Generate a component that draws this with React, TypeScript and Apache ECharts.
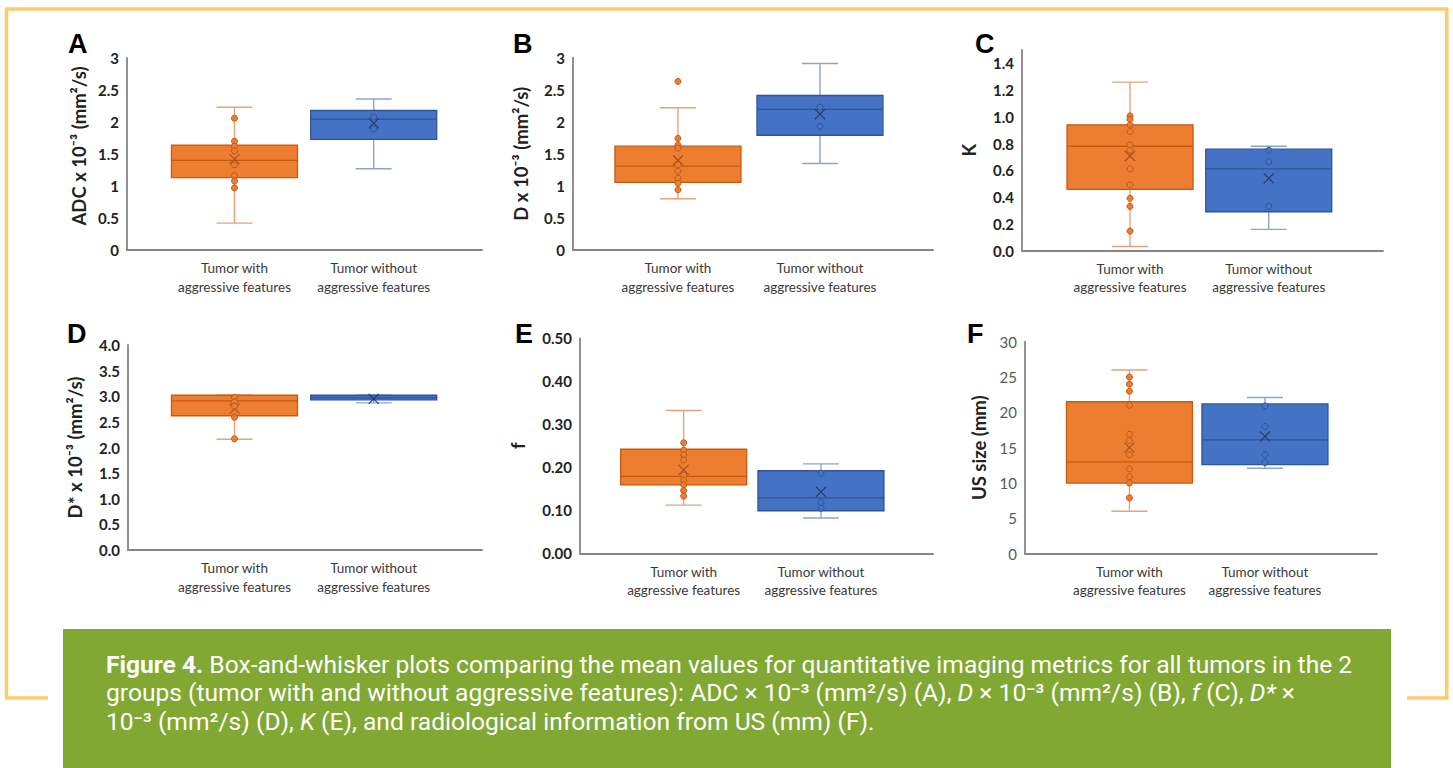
import React, { useEffect, useRef } from 'react';
import * as echarts from 'echarts';

// ---------------- DATA ----------------
const panelLetters = ['A', 'B', 'C', 'D', 'E', 'F'];
const categories = ['Tumor with\naggressive features', 'Tumor without\naggressive features'];
const yAxisTitles = [
  'ADC x 10⁻³ (mm²/s)',
  'D x 10⁻³ (mm²/s)',
  'K',
  'D* x 10⁻³ (mm²/s)',
  'f',
  'US size (mm)',
];
const yMaxes = [3, 3, 1.5, 4, 0.5, 30];
const yIntervals = [0.5, 0.5, 0.2, 0.5, 0.1, 5];
const yDecimals = [-1, -1, 1, 1, 2, 0];

// box stats: [min, Q1, median, Q3, max]
const withBoxes = [
  [0.42, 1.13, 1.4, 1.64, 2.23],
  [0.8, 1.056, 1.31, 1.62, 2.22],
  [0.03, 0.458, 0.78, 0.94, 1.26],
  [2.16, 2.62, 2.91, 3.02, 3.02],
  [0.112, 0.159, 0.179, 0.242, 0.332],
  [6, 10, 13, 21.5, 26],
];
const withoutBoxes = [
  [1.27, 1.73, 2.045, 2.18, 2.36],
  [1.35, 1.79, 2.195, 2.41, 2.91],
  [0.158, 0.29, 0.61, 0.758, 0.78],
  [2.87, 2.93, 2.97, 3.02, 3.02],
  [0.082, 0.099, 0.129, 0.192, 0.208],
  [12.1, 12.6, 16.1, 21.2, 22.1],
];
const withMeans = [1.42, 1.4, 0.707, 2.76, 0.194, 15];
const withoutMeans = [1.98, 2.12, 0.54, 2.95, 0.143, 16.6];
const withPoints = [
  [2.06, 1.7, 1.62, 1.55, 1.33, 1.16, 1.08, 0.97],
  [2.63, 1.74, 1.64, 1.59, 1.33, 1.23, 1.12, 1.04, 0.94],
  [1.007, 0.98, 0.94, 0.89, 0.79, 0.75, 0.61, 0.49, 0.39, 0.33, 0.145],
  [2.98, 2.89, 2.81, 2.59, 2.17],
  [0.257, 0.24, 0.229, 0.217, 0.182, 0.17, 0.159, 0.146, 0.133],
  [25, 24, 23, 21, 16.9, 16, 14, 12, 10.9, 10, 7.9],
];
const withoutPoints = [
  [2.08, 1.89],
  [2.23, 1.93],
  [0.75, 0.665, 0.33],
  [],
  [0.186, 0.118, 0.105],
  [20.9, 18, 14, 12.9],
];

// ---------------- LAYOUT ----------------
const gridLayout = [
  { left: 127, top: 58, width: 355, height: 192 },
  { left: 573, top: 57.7, width: 360, height: 192.3 },
  { left: 1022, top: 50, width: 361, height: 200.5 },
  { left: 128, top: 345, width: 354, height: 205 },
  { left: 580, top: 338.3, width: 353, height: 215 },
  { left: 1025, top: 341.7, width: 352, height: 212 },
];
const xRanges = [
  [-0.772, 1.778],
  [-0.739, 1.796],
  [-0.779, 1.824],
  [-0.765, 1.778],
  [-0.755, 1.816],
  [-0.771, 1.827],
];
const nameGaps = [39, 42.5, 43.5, 43.5, 53, 37];
const namePads = [[0, 0, 0, 16], 0, 0, 0, 0, 0];
const letterPos = [
  [68, 44], [513, 44], [975, 44], [67, 334], [515, 334], [967, 334],
];

const FONT = 'Lato, "Open Sans", sans-serif';
const BOX_W = 126;
const CAP_W = 36;

const orange = {
  fill: '#ED7D31', border: '#C55A11', whisker: '#E8A27A', mean: '#A8501B', marker: '#C0581A',
};
const blue = {
  fill: '#4472C4', border: '#2F5597', whisker: '#8FA3C9', mean: '#203864', marker: '#2F5597',
};

function boxRender(c: any) {
  return (_params: any, api: any) => {
    const x = api.value(0);
    const pMin = api.coord([x, api.value(1)]);
    const pQ1 = api.coord([x, api.value(2)]);
    const pMed = api.coord([x, api.value(3)]);
    const pQ3 = api.coord([x, api.value(4)]);
    const pMax = api.coord([x, api.value(5)]);
    const pMean = api.coord([x, api.value(6)]);
    const cx = pMin[0];
    const hw = BOX_W / 2;
    const cw = CAP_W / 2;
    const wk = { stroke: c.whisker, lineWidth: 1.4 };
    const m = 5;
    return {
      type: 'group',
      children: [
        { type: 'line', shape: { x1: cx, y1: pMax[1], x2: cx, y2: pQ3[1] }, style: wk },
        { type: 'line', shape: { x1: cx, y1: pQ1[1], x2: cx, y2: pMin[1] }, style: wk },
        { type: 'line', shape: { x1: cx - cw, y1: pMax[1], x2: cx + cw, y2: pMax[1] }, style: wk },
        { type: 'line', shape: { x1: cx - cw, y1: pMin[1], x2: cx + cw, y2: pMin[1] }, style: wk },
        {
          type: 'rect',
          shape: { x: cx - hw, y: pQ3[1], width: BOX_W, height: Math.max(pQ1[1] - pQ3[1], 1) },
          style: { fill: c.fill, stroke: c.border, lineWidth: 1.3 },
        },
        { type: 'line', shape: { x1: cx - hw, y1: pMed[1], x2: cx + hw, y2: pMed[1] }, style: { stroke: c.border, lineWidth: 1.3 } },
        { type: 'line', z2: 10, shape: { x1: cx - m, y1: pMean[1] - m, x2: cx + m, y2: pMean[1] + m }, style: { stroke: c.mean, lineWidth: 1.1 } },
        { type: 'line', z2: 10, shape: { x1: cx - m, y1: pMean[1] + m, x2: cx + m, y2: pMean[1] - m }, style: { stroke: c.mean, lineWidth: 1.1 } },
      ],
    };
  };
}

function fmt(d: number) {
  return (v: number) => (d < 0 ? String(+v.toFixed(2)) : v.toFixed(d));
}

function buildOption() {
  const grid: any[] = [];
  const xAxis: any[] = [];
  const yAxis: any[] = [];
  const series: any[] = [];
  const axisLine = { show: true, onZero: false, lineStyle: { color: '#858585', width: 1.8 } };

  for (let i = 0; i < 6; i++) {
    grid.push({ ...gridLayout[i], containLabel: false });
    xAxis.push({
      gridIndex: i,
      type: 'value',
      min: xRanges[i][0],
      max: xRanges[i][1],
      axisLine,
      axisTick: { show: false },
      splitLine: { show: false },
      axisLabel: {
        customValues: [0, 1],
        formatter: (v: number) => categories[Math.round(v)],
        fontFamily: FONT,
        fontSize: 13.5,
        lineHeight: 18.5,
        color: '#3a3a3a',
        margin: 9,
      },
    });
    const isF = i === 5;
    yAxis.push({
      gridIndex: i,
      type: 'value',
      min: 0,
      max: yMaxes[i],
      interval: yIntervals[i],
      axisLine,
      axisTick: { show: false },
      splitLine: { show: false },
      axisLabel: {
        formatter: fmt(yDecimals[i]),
        fontFamily: FONT,
        fontSize: 15,
        fontWeight: isF ? 'normal' : 'bold',
        color: isF ? '#595959' : '#222222',
        margin: 8,
        showMaxLabel: i === 2 ? false : true,
      },
      name: yAxisTitles[i],
      nameLocation: 'middle',
      nameGap: nameGaps[i],
      nameTextStyle: {
        fontFamily: FONT,
        fontSize: 18.5,
        fontWeight: 'bold',
        color: '#222222',
        padding: namePads[i],
      },
    });

    series.push({
      type: 'custom',
      xAxisIndex: i,
      yAxisIndex: i,
      renderItem: boxRender(orange),
      data: [[0, ...withBoxes[i], withMeans[i]]],
      z: 2,
      silent: true,
    });
    series.push({
      type: 'custom',
      xAxisIndex: i,
      yAxisIndex: i,
      renderItem: boxRender(blue),
      data: [[1, ...withoutBoxes[i], withoutMeans[i]]],
      z: 2,
      silent: true,
    });
    series.push({
      type: 'scatter',
      xAxisIndex: i,
      yAxisIndex: i,
      symbol: 'circle',
      symbolSize: 6,
      itemStyle: { color: orange.fill, borderColor: orange.marker, borderWidth: 1, opacity: 1 },
      data: withPoints[i].map((v) => [0, v]),
      z: 3,
      silent: true,
    });
    series.push({
      type: 'scatter',
      xAxisIndex: i,
      yAxisIndex: i,
      symbol: 'circle',
      symbolSize: 6,
      itemStyle: { color: blue.fill, borderColor: blue.marker, borderWidth: 1, opacity: 1 },
      data: withoutPoints[i].map((v) => [1, v]),
      z: 3,
      silent: true,
    });
  }

  const yellow = '#FDCD6B';
  const fl = { stroke: yellow, lineWidth: 3.5 };
  const capFont = 'Roboto, "Noto Sans", sans-serif';
  const capSize = 24.6;
  const capBase = { fill: '#ffffff', fontFamily: capFont, fontSize: capSize };
  const rich = {
    b: { fill: '#ffffff', fontFamily: capFont, fontSize: capSize, fontWeight: 'bold' },
    i: { fill: '#ffffff', fontFamily: capFont, fontSize: capSize, fontStyle: 'italic' },
  };
  const captionLines = [
    '{b|Figure 4.} Box-and-whisker plots comparing the mean values for quantitative imaging metrics for all tumors in the 2',
    'groups (tumor with and without aggressive features): ADC × 10⁻³ (mm²/s) (A), {i|D} × 10⁻³ (mm²/s) (B), {i|f} (C), {i|D*} ×',
    '10⁻³ (mm²/s) (D), {i|K} (E), and radiological information from US (mm) (F).',
  ];
  const captionY = [664, 692.5, 721];

  const graphic: any[] = [
    { type: 'line', shape: { x1: 5, y1: 9, x2: 1448.5, y2: 9 }, style: fl, z: 0 },
    { type: 'line', shape: { x1: 6.5, y1: 9, x2: 6.5, y2: 698 }, style: fl, z: 0 },
    { type: 'line', shape: { x1: 1446.8, y1: 9, x2: 1446.8, y2: 698 }, style: fl, z: 0 },
    { type: 'line', shape: { x1: 5, y1: 698, x2: 48, y2: 698 }, style: fl, z: 0 },
    { type: 'line', shape: { x1: 1407, y1: 698, x2: 1448.5, y2: 698 }, style: fl, z: 0 },
    { type: 'rect', shape: { x: 63, y: 629, width: 1328, height: 145 }, style: { fill: '#80A832' }, z: 1 },
  ];
  captionLines.forEach((t, k) => {
    graphic.push({
      type: 'text',
      z: 2,
      x: 106,
      y: captionY[k],
      style: { ...capBase, text: t, rich, verticalAlign: 'middle', align: 'left' },
    });
  });
  panelLetters.forEach((l, k) => {
    graphic.push({
      type: 'text',
      z: 2,
      x: letterPos[k][0],
      y: letterPos[k][1],
      style: {
        text: l,
        fill: '#000000',
        fontFamily: '"Liberation Sans", Arial, sans-serif',
        fontWeight: 'bold',
        fontSize: 27,
        verticalAlign: 'middle',
        align: 'left',
      },
    });
  });

  return {
    animation: false,
    backgroundColor: '#ffffff',
    grid,
    xAxis,
    yAxis,
    series,
    graphic,
  };
}

export default function App() {
  const ref = useRef<HTMLDivElement>(null);
  useEffect(() => {
    document.body.style.margin = '0';
    document.body.style.overflow = 'hidden';
    const chart = echarts.init(ref.current!, null, { renderer: 'svg' });
    chart.setOption(buildOption() as any);
    return () => chart.dispose();
  }, []);
  return <div ref={ref} style={{ width: 1453, height: 768 }} />;
}
